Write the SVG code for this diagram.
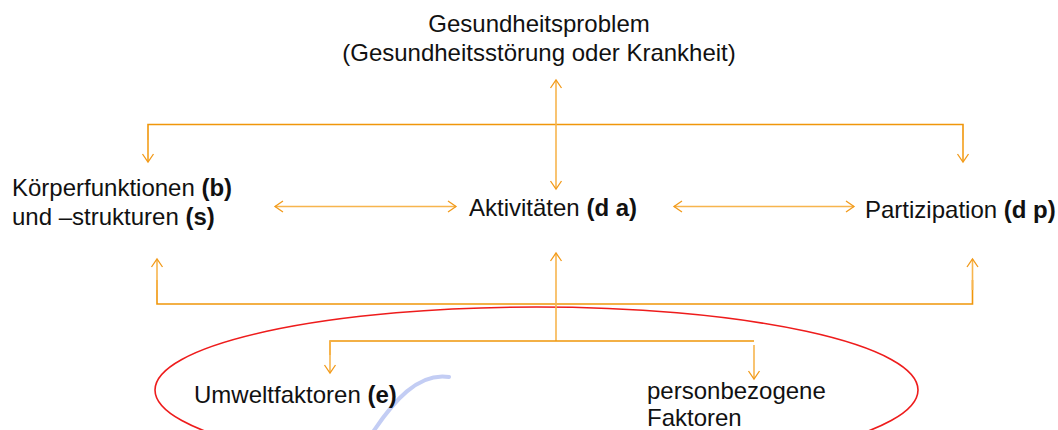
<svg xmlns="http://www.w3.org/2000/svg" width="1058" height="430" viewBox="0 0 1058 430">
<style>
text{font-family:"Liberation Sans",Arial,sans-serif;font-size:24px;fill:#111}
.b{font-weight:bold}
.ln{fill:none;stroke:#f0960a;stroke-width:1.6}
.ar{fill:none;stroke:#f7b54e;stroke-width:1.6}
</style>
<defs>
<marker id="ah" markerUnits="userSpaceOnUse" viewBox="-10 -7 12 14" refX="0" refY="0" markerWidth="12" markerHeight="14" orient="auto-start-reverse">
<path d="M-8,-5.5 L0,0 L-8,5.5" fill="none" stroke="#f29a1a" stroke-width="1.3"/>
</marker>
</defs>
<rect width="1058" height="430" fill="#fff"/>
<g id="umfeld">
<ellipse cx="536.5" cy="390" rx="381.5" ry="83" fill="none" stroke="#ee1c1c" stroke-width="1.6"/>
<path d="M373,432 C393,402 418,372 449,377" fill="none" stroke="#c3cdf4" stroke-width="4" stroke-linecap="round"/>
</g>
<g id="connectors">
<path class="ln" d="M148,162 V124.5 H963 V162" />
<line class="ar" x1="148" y1="140" x2="148" y2="162" marker-end="url(#ah)"/>
<line class="ar" x1="963" y1="140" x2="963" y2="162" marker-end="url(#ah)"/>
<line class="ar" x1="556" y1="80" x2="556" y2="189" marker-start="url(#ah)" marker-end="url(#ah)"/>
<line class="ar" x1="275" y1="206.5" x2="456" y2="206.5" marker-start="url(#ah)" marker-end="url(#ah)"/>
<line class="ar" x1="674" y1="206.5" x2="854" y2="206.5" marker-start="url(#ah)" marker-end="url(#ah)"/>
<path class="ln" d="M157,280 V304 H972.5 V280"/>
<line class="ar" x1="157" y1="290" x2="157" y2="259" marker-end="url(#ah)"/>
<line class="ar" x1="972.5" y1="290" x2="972.5" y2="259" marker-end="url(#ah)"/>
<line class="ar" x1="556" y1="341" x2="556" y2="253" marker-end="url(#ah)"/>
<path class="ln" d="M330,355 V341 H754"/>
<line class="ar" x1="330" y1="341" x2="330" y2="373" marker-end="url(#ah)"/>
<line class="ar" x1="754" y1="345" x2="754" y2="379" marker-end="url(#ah)"/>
</g>
<g id="gesundheitsproblem">
<text x="539" y="32" text-anchor="middle">Gesundheitsproblem</text>
<text x="539" y="61" text-anchor="middle">(Gesundheitsstörung oder Krankheit)</text>
</g>
<g id="koerper">
<text x="12" y="196">Körperfunktionen <tspan class="b">(b)</tspan></text>
<text x="12" y="225">und –strukturen <tspan class="b">(s)</tspan></text>
</g>
<g id="aktivitaeten">
<text x="469" y="216">Aktivitäten <tspan class="b">(d a)</tspan></text>
</g>
<g id="partizipation">
<text x="865" y="218">Partizipation <tspan class="b">(d p)</tspan></text>
</g>
<g id="umwelt">
<text x="194" y="403">Umweltfaktoren <tspan class="b">(e)</tspan></text>
</g>
<g id="person">
<text x="647" y="399">personbezogene</text>
<text x="647" y="426">Faktoren</text>
</g>
</svg>
